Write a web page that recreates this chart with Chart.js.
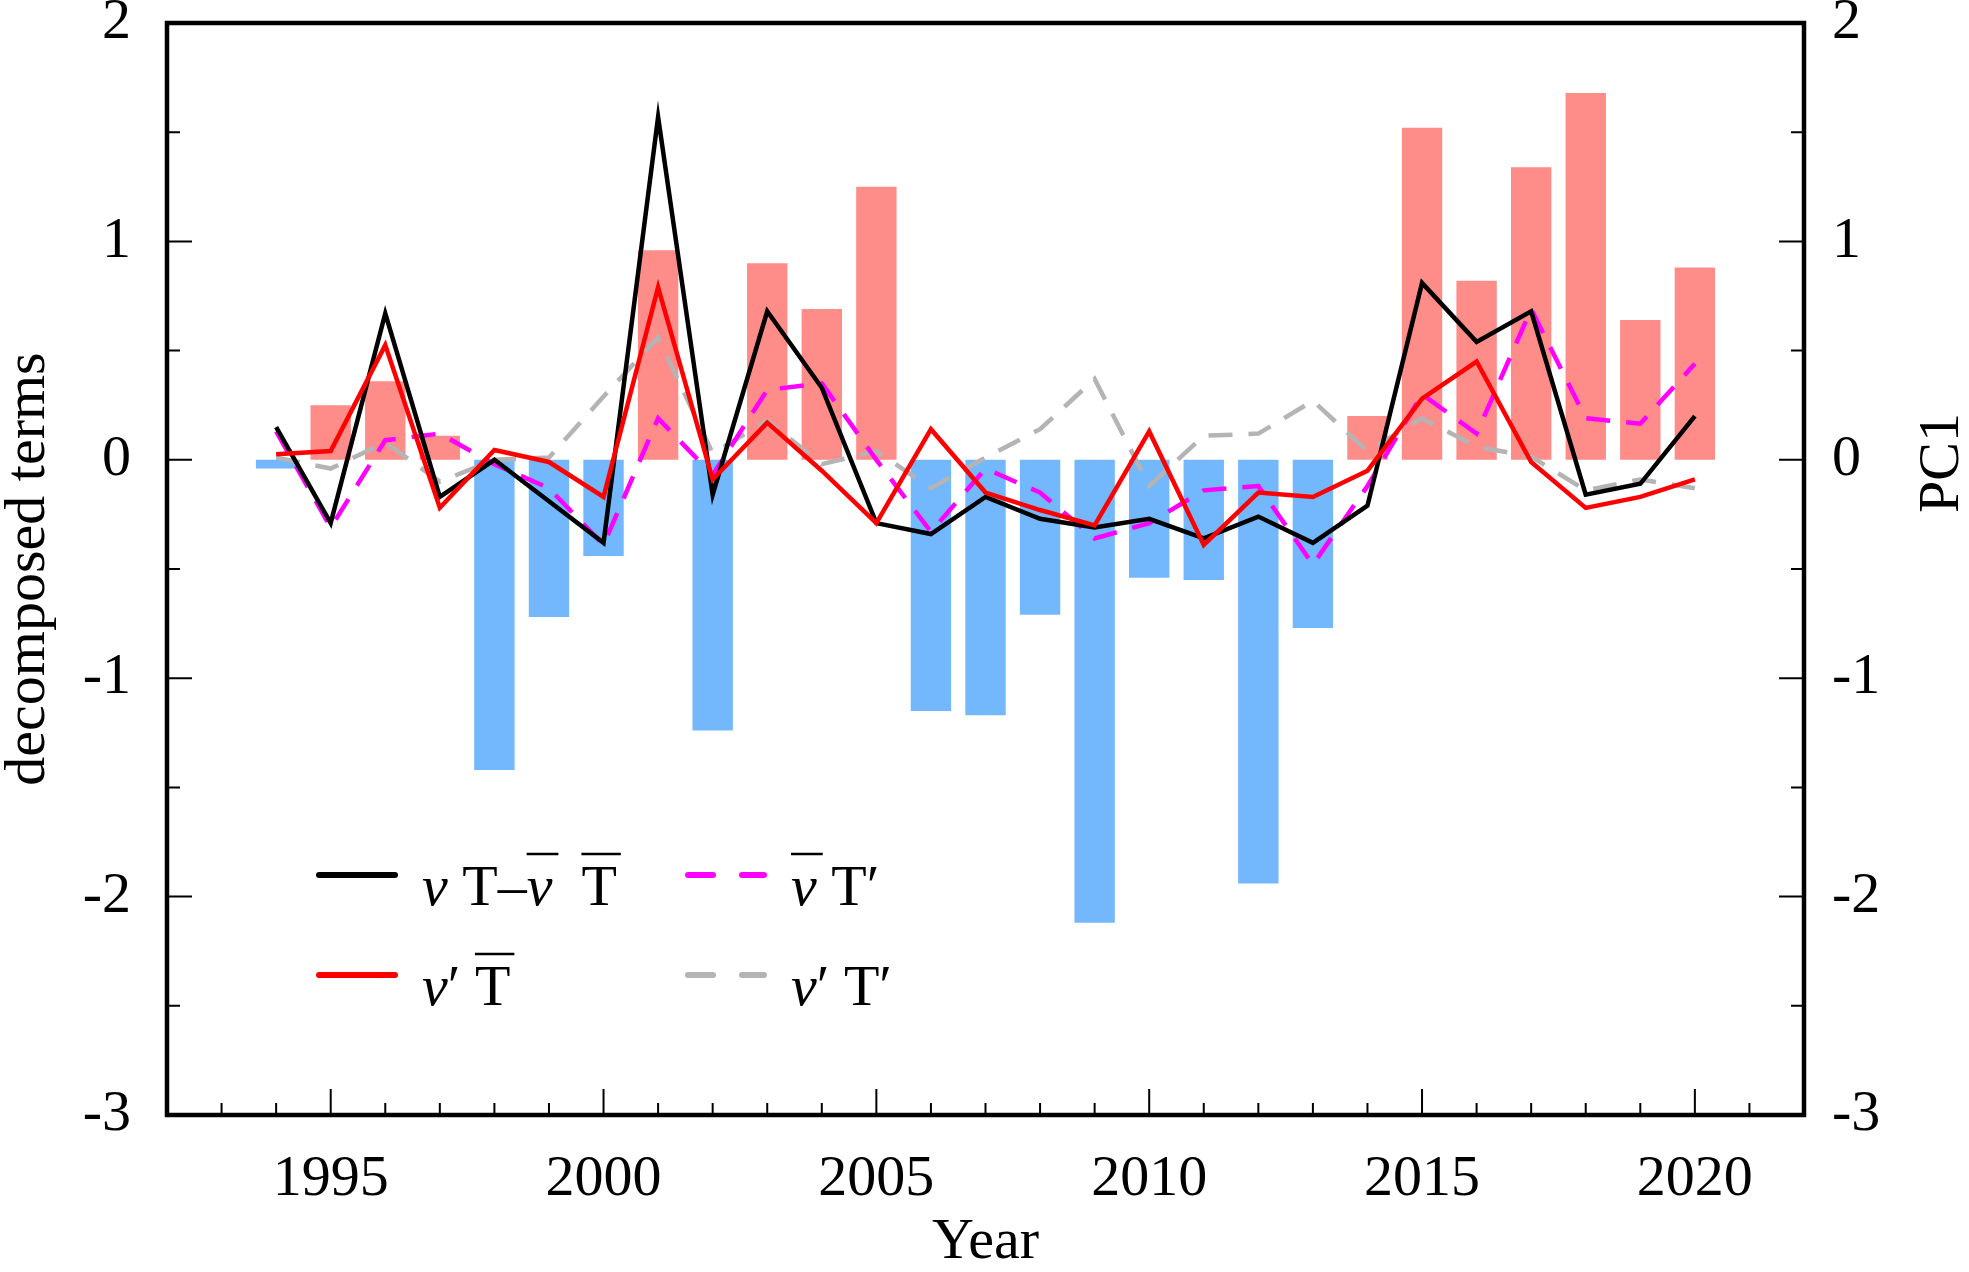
<!DOCTYPE html>
<html>
<head>
<meta charset="utf-8">
<script src="https://cdn.jsdelivr.net/npm/chart.js@4.4.1/dist/chart.umd.min.js"></script>
<style>
    html, body { margin: 0; padding: 0; background: #fff; }
    #wrap { width: 1969px; height: 1272px; position: relative; }
</style>
</head>
<body>
<div id="wrap"><canvas id="chart-decomposed"></canvas></div>
<script>

var years = [1994, 1995, 1996, 1997, 1998, 1999, 2000, 2001, 2002, 2003, 2004, 2005, 2006, 2007,
    2008, 2009, 2010, 2011, 2012, 2013, 2014, 2015, 2016, 2017, 2018, 2019, 2020];

// PC1 (bars, right axis)
var pc1 = [-0.04, 0.25, 0.36, 0.11, -1.42, -0.72, -0.44, 0.96, -1.24, 0.90, 0.69, 1.25, -1.15, -1.17,
    -0.71, -2.12, -0.54, -0.55, -1.94, -0.77, 0.20, 1.52, 0.82, 1.34, 1.68, 0.64, 0.88];

// decomposed terms (lines, left axis)
var vtTotal = [0.15, -0.29, 0.67, -0.17, 0.00, -0.19, -0.38, 1.57, -0.16, 0.68, 0.33, -0.29, -0.34, -0.17,
    -0.27, -0.31, -0.27, -0.36, -0.26, -0.38, -0.21, 0.81, 0.54, 0.68, -0.16, -0.11, 0.20];
var vPrimeTbar = [0.025, 0.04, 0.525, -0.22, 0.045, -0.01, -0.17, 0.79, -0.09, 0.17, -0.05, -0.29, 0.14, -0.15,
    -0.23, -0.30, 0.13, -0.39, -0.15, -0.17, -0.05, 0.28, 0.45, -0.01, -0.22, -0.17, -0.09];
var vbarTPrime = [0.13, -0.31, 0.09, 0.12, -0.02, -0.13, -0.39, 0.19, -0.07, 0.32, 0.35, 0.00, -0.33, -0.04,
    -0.15, -0.36, -0.29, -0.14, -0.12, -0.48, -0.12, 0.30, 0.12, 0.69, 0.19, 0.165, 0.44];
var vPrimeTPrime = [0.01, -0.04, 0.08, -0.10, 0.00, 0.01, 0.29, 0.56, 0.03, 0.18, -0.02, 0.04, -0.13, 0.01,
    0.14, 0.37, -0.12, 0.11, 0.12, 0.27, 0.04, 0.19, 0.06, 0.015, -0.14, -0.09, -0.13];

var xTickLabels = [1995, 2000, 2005, 2010, 2015, 2020];
var xMin = 1992, xMax = 2022;
var yMin = -3, yMax = 2;

var FONT = '"Liberation Serif", "Times New Roman", serif';
var FS = 58;

// legend entries: pieces of text, it = italic, bar = overline
var legendItems = [
    { color: '#000000', dash: [], x: 316, y: 905, parts: [
        { t: 'v', it: true }, { t: ' T' }, { t: '\u2013' }, { t: 'v', it: true, bar: true }, { t: '  ' }, { t: 'T', bar: true }] },
    { color: '#ff0000', dash: [], x: 316, y: 1005, parts: [
        { t: 'v', it: true }, { t: '\u2032 ' }, { t: 'T', bar: true }] },
    { color: '#ff00ff', dash: [25, 29], x: 685, y: 905, parts: [
        { t: 'v', it: true, bar: true }, { t: ' T\u2032' }] },
    { color: '#b4b4b4', dash: [25, 29], x: 685, y: 1005, parts: [
        { t: 'v', it: true }, { t: '\u2032 T\u2032' }] }
];


function toPoints(values) {
    return years.map((yr, i) => ({ x: yr, y: values[i] }));
}

// labels sit on the frame, so no extra room for them
function noLabelPadding(scale) {
    scale.paddingTop = 0;
    scale.paddingBottom = 0;
    scale.paddingLeft = 0;
    scale.paddingRight = 0;
}


var decor = {
    id: 'decor',
    afterDraw: function (chart) {
        var ctx = chart.ctx;
        var a = chart.chartArea;
        var sx = chart.scales.x, sy = chart.scales.y, sy2 = chart.scales.y2;

        ctx.save();
        ctx.strokeStyle = '#000';
        ctx.lineWidth = 2;
        ctx.beginPath();
        // ticks pointing inward
        for (var yr = xMin + 1; yr < xMax; yr++) {
            var px = sx.getPixelForValue(yr);
            var len = yr % 5 === 0 ? 26 : 12;
            ctx.moveTo(px, a.bottom);
            ctx.lineTo(px, a.bottom - len);
        }
        for (var v = yMin + 0.5; v < yMax; v += 0.5) {
            var len2 = Number.isInteger(v) ? 25 : 13;
            var p1 = sy.getPixelForValue(v);
            var p2 = sy2.getPixelForValue(v);
            ctx.moveTo(a.left, p1);
            ctx.lineTo(a.left + len2, p1);
            ctx.moveTo(a.right, p2);
            ctx.lineTo(a.right - len2, p2);
        }
        ctx.stroke();

        ctx.lineWidth = 4.5;
        ctx.strokeRect(a.left, a.top, a.right - a.left, a.bottom - a.top);

        // right axis title
        ctx.fillStyle = '#000';
        ctx.font = FS + 'px ' + FONT;
        ctx.translate(1943, 463);
        ctx.rotate(-Math.PI / 2);
        ctx.textAlign = 'center';
        ctx.textBaseline = 'middle';
        ctx.fillText('PC1', 0, 0);
        ctx.restore();

        drawLegend(ctx);
    }
};


function drawLegend(ctx) {
    ctx.save();
    legendItems.forEach(function (item) {
        var sy = item.y - 30;
        ctx.strokeStyle = item.color;
        ctx.lineWidth = 6;
        ctx.lineCap = 'round';
        ctx.setLineDash(item.dash);
        ctx.beginPath();
        ctx.moveTo(item.x + 3, sy);
        ctx.lineTo(item.x + 79, sy);
        ctx.stroke();
        ctx.setLineDash([]);

        var x = item.x + 106;
        ctx.fillStyle = '#000';
        ctx.textBaseline = 'alphabetic';
        ctx.textAlign = 'left';
        item.parts.forEach(function (p) {
            ctx.font = (p.it ? 'italic ' : '') + FS + 'px ' + FONT;
            var w = ctx.measureText(p.t).width;
            ctx.fillText(p.t, x, item.y);
            if (p.bar) {
                ctx.strokeStyle = '#000';
                ctx.lineWidth = 2.5;
                ctx.lineCap = 'butt';
                ctx.beginPath();
                ctx.moveTo(x, item.y - 51);
                ctx.lineTo(x + w + (p.it ? 6 : 4), item.y - 51);
                ctx.stroke();
            }
            x += w;
        });
    });
    ctx.restore();
}


function drawDecomposedChart() {

    var tickFont = { family: FONT, size: FS };

    new Chart(
        document.getElementById('chart-decomposed'),
        {
            type: 'bar',
            data: {
                datasets: [
                    {
                        type: 'line',
                        label: 'vT - v\u0304T\u0304',
                        data: toPoints(vtTotal),
                        borderColor: '#000000',
                        borderWidth: 4.5,
                        pointRadius: 0,
                        yAxisID: 'y',
                        order: 2
                    },
                    {
                        type: 'line',
                        label: "v'T\u0304",
                        data: toPoints(vPrimeTbar),
                        borderColor: '#ff0000',
                        borderWidth: 4.5,
                        pointRadius: 0,
                        yAxisID: 'y',
                        order: 1
                    },
                    {
                        type: 'line',
                        label: "v\u0304T'",
                        data: toPoints(vbarTPrime),
                        borderColor: '#ff00ff',
                        borderWidth: 4.5,
                        borderDash: [24, 16],
                        pointRadius: 0,
                        yAxisID: 'y',
                        order: 3
                    },
                    {
                        type: 'line',
                        label: "v'T'",
                        data: toPoints(vPrimeTPrime),
                        borderColor: '#b4b4b4',
                        borderWidth: 4.5,
                        borderDash: [24, 16],
                        pointRadius: 0,
                        yAxisID: 'y',
                        order: 4
                    },
                    {
                        type: 'bar',
                        label: 'PC1',
                        data: toPoints(pc1),
                        backgroundColor: ctx => (ctx.raw && ctx.raw.y < 0) ? '#73b7fc' : '#fe8d89',
                        barPercentage: 0.74,
                        categoryPercentage: 1,
                        yAxisID: 'y2',
                        order: 5
                    }
                ]
            },
            options: {
                responsive: true,
                maintainAspectRatio: false,
                animation: false,
                layout: { padding: { top: 23, left: 0, right: 0, bottom: 0 } },
                plugins: {
                    legend: { display: false },
                    tooltip: { enabled: false }
                },
                scales: {
                    x: {
                        type: 'linear',
                        position: 'bottom',
                        min: xMin,
                        max: xMax,
                        offset: false,
                        grid: { display: false, offset: false, drawTicks: false },
                        border: { display: false },
                        afterBuildTicks: function (scale) {
                            scale.ticks = xTickLabels.map(v => ({ value: v }));
                        },
                        afterFit: function (scale) {
                            scale.height = 157;
                            noLabelPadding(scale);
                        },
                        ticks: {
                            font: tickFont,
                            color: '#000',
                            padding: 30,
                            autoSkip: false,
                            maxRotation: 0,
                            callback: v => String(v)
                        },
                        title: {
                            display: true,
                            text: 'Year',
                            color: '#000',
                            font: { family: FONT, size: FS, lineHeight: 1 },
                            padding: { top: 0, bottom: 0 }
                        }
                    },
                    y: {
                        position: 'left',
                        min: yMin,
                        max: yMax,
                        grid: { display: false, drawTicks: false },
                        border: { display: false },
                        afterFit: function (scale) {
                            scale.width = 167;
                            noLabelPadding(scale);
                        },
                        ticks: { stepSize: 1, font: tickFont, color: '#000', padding: 36 },
                        title: {
                            display: true,
                            text: 'decomposed terms',
                            color: '#000',
                            font: { family: FONT, size: FS, lineHeight: 1 },
                            padding: { top: 0, bottom: 0 }
                        }
                    },
                    y2: {
                        position: 'right',
                        min: yMin,
                        max: yMax,
                        grid: { display: false, drawTicks: false },
                        border: { display: false },
                        afterFit: function (scale) {
                            scale.width = 165;
                            noLabelPadding(scale);
                        },
                        ticks: { stepSize: 1, font: tickFont, color: '#000', padding: 28 }
                    }
                }
            },
            plugins: [decor]
        }
    );
}

drawDecomposedChart();

</script>
</body>
</html>
